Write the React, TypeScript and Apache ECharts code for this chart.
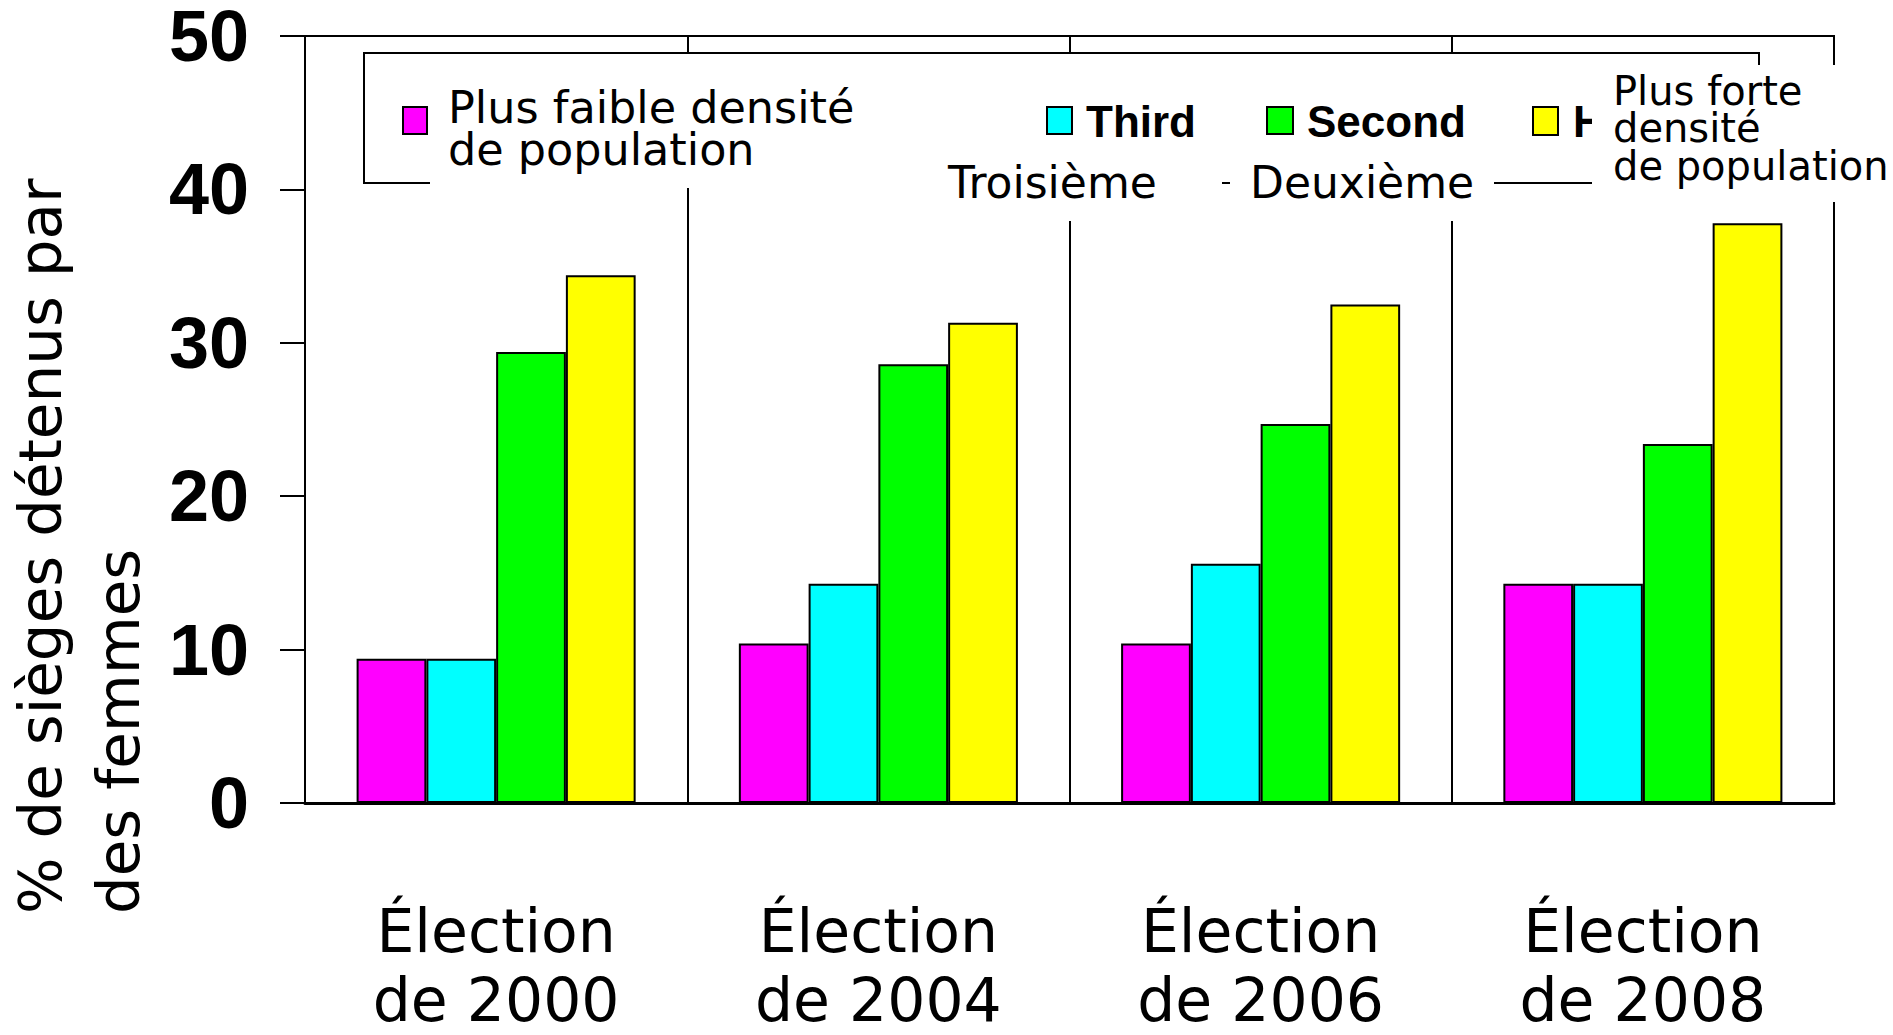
import React, { useEffect, useRef } from "react";
import * as echarts from "echarts";

const categories = ["Élection\nde 2000", "Élection\nde 2004", "Élection\nde 2006", "Élection\nde 2008"];
const seriesNames = ["Plus faible densité de population", "Third", "Second", "Highest"];
const lowestDensity = [9.4, 10.4, 10.4, 14.3];
const thirdDensity = [9.4, 14.3, 15.6, 14.3];
const secondDensity = [29.4, 28.6, 24.7, 23.4];
const highestDensity = [34.4, 31.3, 32.5, 37.8];
const seriesData = [lowestDensity, thirdDensity, secondDensity, highestDensity];
const seriesColors = ["#FF00FF", "#00FFFF", "#00FF00", "#FFFF00"];
const yMin = 0;
const yMax = 50;
const yInterval = 10;
const yTitleLines = ["% de sièges détenus par", "des femmes"];
const lowLabelLines = ["Plus faible densité", "de population"];
const highLabelLines = ["Plus forte", "densité", "de population"];
const rankLabels = ["Troisième", "Deuxième"];

const SANS = '"DejaVu Sans", Verdana, sans-serif';
const BOLD = '"Liberation Sans", Arial, sans-serif';

function txt(text: string, x: number, baseline: number, size: number, font: string, weight: string = "normal", z = 110) {
  return {
    type: "text",
    z,
    x,
    y: baseline - 0.346 * size,
    style: {
      text,
      fontSize: size,
      fontFamily: font,
      fontWeight: weight,
      fill: "#000",
      align: "left",
      verticalAlign: "middle",
    },
  };
}

function cover(x: number, y: number, w: number, h: number) {
  return { type: "rect", z: 105, shape: { x, y, width: w, height: h }, style: { fill: "#fff" } };
}

function swatch(x: number, y: number, w: number, h: number, color: string) {
  return {
    type: "rect",
    z: 110,
    shape: { x, y, width: w, height: h },
    style: { fill: color, stroke: "#000", lineWidth: 2 },
  };
}

export default function App() {
  const ref = useRef<HTMLDivElement>(null);
  useEffect(() => {
    document.body.style.margin = "0";
    document.body.style.overflow = "hidden";
    const chart = echarts.init(ref.current!, null, { renderer: "svg" });
    const graphic: any[] = [
      {
        type: "rect",
        z: 100,
        shape: { x: 364, y: 53, width: 1395, height: 130 },
        style: { fill: "#fff", stroke: "#000", lineWidth: 2 },
      },
      txt("Highest", 1573, 137, 44, BOLD, "bold", 102),
      cover(430, 60, 470, 128),
      cover(900, 140, 322, 81),
      cover(1230, 140, 264, 81),
      cover(1592, 65, 301, 137),
      swatch(403, 107, 24, 27, seriesColors[0]),
      swatch(1047, 107, 25, 27, seriesColors[1]),
      swatch(1267, 107, 26, 27, seriesColors[2]),
      swatch(1533, 107, 25, 28, seriesColors[3]),
      txt(lowLabelLines[0], 448, 123, 44.5, SANS),
      txt(lowLabelLines[1], 448, 165, 44.5, SANS),
      txt(seriesNames[1], 1086, 137, 44, BOLD, "bold"),
      txt(seriesNames[2], 1307, 137, 44, BOLD, "bold"),
      txt(rankLabels[0], 948, 198, 44, SANS),
      txt(rankLabels[1], 1250, 198, 44, SANS),
      txt(highLabelLines[0], 1613, 105, 40, SANS),
      txt(highLabelLines[1], 1613, 142, 40, SANS),
      txt(highLabelLines[2], 1613, 180, 40, SANS),
      {
        type: "text",
        z: 110,
        x: 40,
        y: 914,
        rotation: Math.PI / 2,
        style: { text: yTitleLines[0], fontSize: 59.5, fontFamily: SANS, fill: "#000", align: "left", verticalAlign: "middle" },
      },
      {
        type: "text",
        z: 110,
        x: 118,
        y: 914,
        rotation: Math.PI / 2,
        style: { text: yTitleLines[1], fontSize: 59.5, fontFamily: SANS, fill: "#000", align: "left", verticalAlign: "middle" },
      },
    ];
    chart.setOption({
      animation: false,
      backgroundColor: "#fff",
      grid: {
        left: 305,
        right: 59,
        top: 36,
        bottom: 232,
        containLabel: false,
        outerBoundsMode: "none",
        show: true,
        borderColor: "#000",
        borderWidth: 2,
        backgroundColor: "transparent",
      },
      xAxis: {
        type: "category",
        data: categories,
        axisLine: { show: true, lineStyle: { color: "#000", width: 3 } },
        axisTick: { show: false },
        splitLine: { show: true, interval: 0, lineStyle: { color: "#000", width: 2 } },
        axisLabel: {
          interval: 0,
          margin: 93,
          fontSize: 60,
          lineHeight: 69,
          fontFamily: SANS,
          color: "#000",
        },
      },
      yAxis: {
        type: "value",
        min: yMin,
        max: yMax,
        interval: yInterval,
        axisLine: { show: true, lineStyle: { color: "#000", width: 2 } },
        axisTick: { show: true, inside: false, length: 25, lineStyle: { color: "#000", width: 2 } },
        splitLine: { show: false },
        axisLabel: {
          margin: 56,
          fontSize: 72,
          lineHeight: 60,
          fontWeight: "bold",
          fontFamily: BOLD,
          color: "#000",
          padding: [8, 0, 0, 0],
        },
      },
      legend: { show: false },
      series: seriesData.map((d, i) => ({
        name: seriesNames[i],
        type: "bar",
        data: d,
        barGap: "0%",
        barCategoryGap: "27%",
        itemStyle: { color: seriesColors[i], borderColor: "#000", borderWidth: 2 },
      })),
      graphic,
    });
    return () => chart.dispose();
  }, []);
  return <div ref={ref} style={{ position: "absolute", left: 0, top: 0, width: 1893, height: 1035 }} />;
}
